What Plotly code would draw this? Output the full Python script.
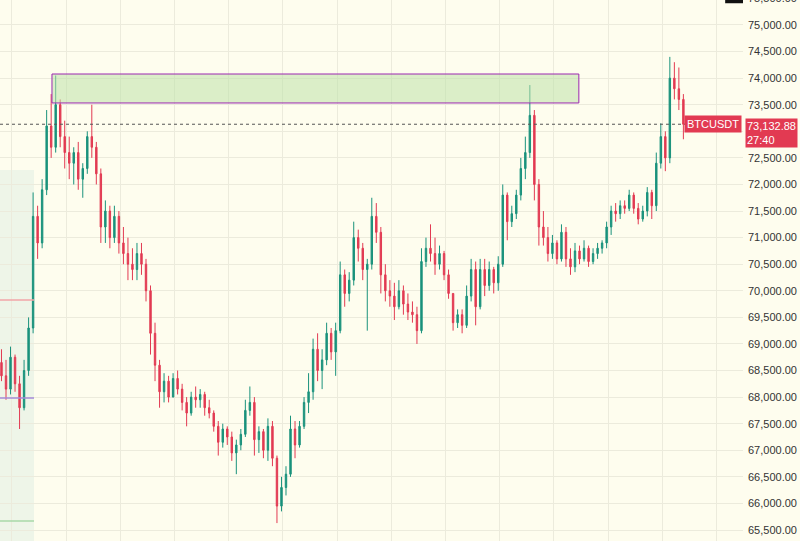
import plotly.graph_objects as go

# ---------------- data ----------------
opens = [
    68650, 68400, 68150, 68750, 68250, 67800, 68500, 69300, 71400, 70900,
    71900, 73100, 72700, 73500, 72900, 72600, 72400, 72600, 72100, 72300,
    72900, 72700, 72200, 71200, 71500, 71000, 71400, 70900, 70700, 70500,
    70400, 70700, 70500, 70000, 69200, 68600, 68100, 68300, 68000, 68350,
    68150, 67900, 67700, 68000, 67950, 68050, 67800, 67700, 67450, 67150,
    67400, 67250, 66950, 67100, 67300, 67750, 67900, 67200, 67350, 67000,
    67450, 66850, 65950, 66300, 66550, 67400, 67100, 67450, 67900, 68100,
    68900, 68500, 68700, 69200, 68850, 69250, 70300, 69950, 70200, 71000,
    70800, 70400, 70500, 71400, 71100, 70300, 70000, 69900, 69700, 70000,
    69750, 69600, 69550, 69250, 70550, 70800, 70700, 70500, 70700, 70300,
    69950, 69400, 69550, 69350, 69900, 70400, 69700, 70400, 70100, 70400,
    70150, 70500, 71800, 71300, 71450, 71800, 72300, 72600, 73300, 72000,
    71200, 71000, 70700, 70900, 70600, 71100, 70600, 70450, 70750, 70600,
    70800, 70550, 70700, 70800, 70900, 71200, 71500, 71450, 71600, 71550,
    71800, 71550, 71350, 71500, 71850, 71600, 72400, 72900, 72500, 74000,
    73800, 73600,
]
highs = [
    68900, 68700, 68950, 68800, 68400, 68700, 69500, 71850, 71600, 72100,
    73400, 73700, 74050, 73600, 73200, 72900, 72700, 72800, 72400, 73000,
    73500, 72800, 72300, 71700, 71600, 71600, 71500, 71200, 71000, 70800,
    70900, 70900, 70600, 70100, 69400, 68700, 68450, 68400, 68450, 68500,
    68250, 68000, 68100, 68200, 68150, 68100, 67950, 67750, 67550, 67500,
    67450, 67350, 67200, 67400, 67950, 68200, 68000, 67450, 67400, 67600,
    67550, 66900, 66500, 66700, 67650, 67550, 67550, 68000, 68450, 69100,
    69200, 68900, 69400, 69300, 69400, 70550, 70400, 70350, 71300, 71150,
    70900, 70600, 71750, 71650, 71200, 70500, 70200, 70150, 70200, 70100,
    69950, 69800, 69700, 70800, 71000, 71250, 71000, 70850, 70750, 70400,
    69950, 69650, 69650, 70100, 70600, 70550, 70600, 70600, 70550, 70450,
    70650, 72000, 71850, 71600, 71900, 72500, 72900, 73870, 73400, 72100,
    71500, 71200, 71050, 70950, 71250, 71200, 70800, 70900, 70850, 70950,
    70850, 70800, 70900, 70950, 71300, 71600, 71650, 71700, 71700, 71900,
    71850, 71650, 71600, 71950, 71900, 72600, 73150, 73000, 74400, 74300,
    74200, 73700,
]
lows = [
    68300, 67950, 68050, 68100, 67400, 67750, 68400, 69200, 70600, 70800,
    71800, 72500, 72600, 72700, 72300, 72100, 72000, 71900, 71750, 72200,
    72500, 72000, 70900, 70900, 70800, 70900, 70700, 70500, 70200, 70200,
    70200, 70300, 69800, 68800, 68300, 67800, 67900, 67900, 68000, 68050,
    67750, 67450, 67650, 67800, 67800, 67650, 67600, 67350, 66900, 67050,
    67100, 66800, 66550, 67000, 67250, 67650, 66900, 66950, 66850, 66800,
    66700, 65630, 65850, 66150, 66500, 66850, 67050, 67400, 67700, 67950,
    68300, 68150, 68600, 68700, 68400, 69200, 69700, 69800, 70100, 70550,
    70200, 69250, 70400, 70900, 69950, 69800, 69700, 69450, 69650, 69550,
    69450, 69400, 69000, 69200, 70450, 70550, 70300, 70400, 70200, 69850,
    69250, 69300, 69200, 69300, 69800, 69350, 69650, 69900, 70000, 69950,
    70000, 70450, 70950, 71200, 71350, 71700, 72100, 72500, 71700, 70850,
    70850, 70550, 70600, 70500, 70550, 70450, 70300, 70350, 70500, 70550,
    70450, 70500, 70600, 70700, 70800, 71050, 71300, 71350, 71450, 71500,
    71450, 71250, 71300, 71400, 71350, 71500, 72300, 72250, 72400, 73600,
    73400, 72850,
]
closes = [
    68400, 68150, 68750, 68250, 67800, 68500, 69300, 71400, 70900, 71900,
    73100, 72700, 73500, 72900, 72600, 72400, 72600, 72100, 72300, 72900,
    72700, 72200, 71200, 71500, 71000, 71400, 70900, 70700, 70500, 70400,
    70700, 70500, 70000, 69200, 68600, 68100, 68300, 68000, 68350, 68150,
    67900, 67700, 68000, 67950, 68050, 67800, 67700, 67450, 67150, 67400,
    67250, 66950, 67100, 67300, 67750, 67900, 67200, 67350, 67000, 67450,
    66850, 65950, 66300, 66550, 67400, 67100, 67450, 67900, 68100, 68900,
    68500, 68700, 69200, 68850, 69250, 70300, 69950, 70200, 71000, 70800,
    70400, 70500, 71400, 71100, 70300, 70000, 69900, 69700, 70000, 69750,
    69600, 69550, 69250, 70550, 70800, 70700, 70500, 70700, 70300, 69950,
    69400, 69550, 69350, 69900, 70400, 69700, 70400, 70100, 70400, 70150,
    70500, 71800, 71300, 71450, 71800, 72300, 72600, 73300, 72000, 71200,
    71000, 70700, 70900, 70600, 71100, 70600, 70450, 70750, 70600, 70800,
    70550, 70700, 70800, 70900, 71200, 71500, 71450, 71600, 71550, 71800,
    71550, 71350, 71500, 71850, 71600, 72400, 72900, 72500, 74000, 73800,
    73600, 73132.88,
]
last_price = 73132.88
symbol = "BTCUSDT"
countdown = "27:40"
tick_values = [65500 + 500 * k for k in range(20)]   # 65,500 ... 75,000
zone_low, zone_high = 73533, 74078                   # highlighted supply zone
left_levels = [69827, 67984, 65670]                  # short lines on the left
left_level_colors = ["#f2a5a8", "#a58ad8", "#a8d8a8"]

x_idx = list(range(len(closes)))

BG = "#FEFDEE"
GRID = "#ecebdc"
UP = "#1a927c"
DOWN = "#e23a52"
FONT = "Liberation Sans, Arial"

fig = go.Figure()
fig.add_trace(go.Candlestick(
    x=x_idx, open=opens, high=highs, low=lows, close=closes,
    increasing=dict(line=dict(color=UP, width=1), fillcolor=UP),
    decreasing=dict(line=dict(color=DOWN, width=1), fillcolor=DOWN),
    whiskerwidth=0, showlegend=False, hoverinfo="skip",
))

shapes = []
# left shaded area
shapes.append(dict(type="rect", xref="paper", yref="y", x0=0, x1=0.0458,
                   y0=65000, y1=72272, fillcolor="#eef5e8", line=dict(width=0),
                   layer="below"))
for lv, col in zip(left_levels, left_level_colors):
    shapes.append(dict(type="line", xref="paper", yref="y", x0=0, x1=0.0458,
                       y0=lv, y1=lv, line=dict(color=col, width=1.5)))
# zone rectangle
shapes.append(dict(type="rect", xref="x", yref="y", x0=11.18, x1=127.85,
                   y0=zone_low, y1=zone_high, fillcolor="rgba(190,225,170,0.55)",
                   line=dict(color="#9c27b0", width=1), layer="above"))
# last price dotted line
shapes.append(dict(type="line", xref="paper", yref="y", x0=0, x1=1,
                   y0=last_price, y1=last_price,
                   line=dict(color="#555555", width=1, dash="dot")))
# dark marker at top right
shapes.append(dict(type="rect", xref="paper", yref="paper", x0=0.976, x1=1.0,
                   y0=0.994, y1=1.0, fillcolor="#111111", line=dict(width=0)))

annotations = [
    dict(xref="paper", yref="y", x=0.9985, y=last_price, xanchor="right",
         yanchor="middle", text=symbol, showarrow=False,
         font=dict(color="white", size=11, family=FONT),
         bgcolor=DOWN, borderpad=2),
    dict(xref="paper", yref="y", x=1.0, y=73250, xanchor="left",
         yanchor="top", text=f"{last_price:,.2f}<br>{countdown}", align="left",
         showarrow=False,
         font=dict(color="white", size=11, family=FONT),
         bgcolor=DOWN, borderpad=1, xshift=2),
    dict(xref="paper", yref="paper", x=1.0, y=1.003, xanchor="left",
         yanchor="middle", text="75,500.00", showarrow=False, xshift=3,
         font=dict(color="#333333", size=11, family=FONT)),
]

fig.update_layout(
    width=800, height=541,
    margin=dict(l=0, r=57, t=0, b=0),
    paper_bgcolor=BG, plot_bgcolor=BG,
    shapes=shapes, annotations=annotations,
    showlegend=False,
    boxgap=0.55,
    xaxis=dict(range=[-0.33, 164.2], rangeslider=dict(visible=False),
               showticklabels=False, showgrid=True, gridcolor=GRID,
               tick0=2.32, dtick=12, zeroline=False, showline=False, ticks=""),
    yaxis=dict(side="right", range=[65293, 75470], tickvals=tick_values,
               tickformat=",.2f", showgrid=True, gridcolor=GRID,
               zeroline=False, showline=False, ticks="", ticklabelstandoff=4,
               tickfont=dict(size=11, color="#333333", family=FONT)),
)

fig.write_html("out.html", config={"displayModeBar": False},
               post_script="document.body.style.margin='0';document.body.style.overflow='hidden';")
